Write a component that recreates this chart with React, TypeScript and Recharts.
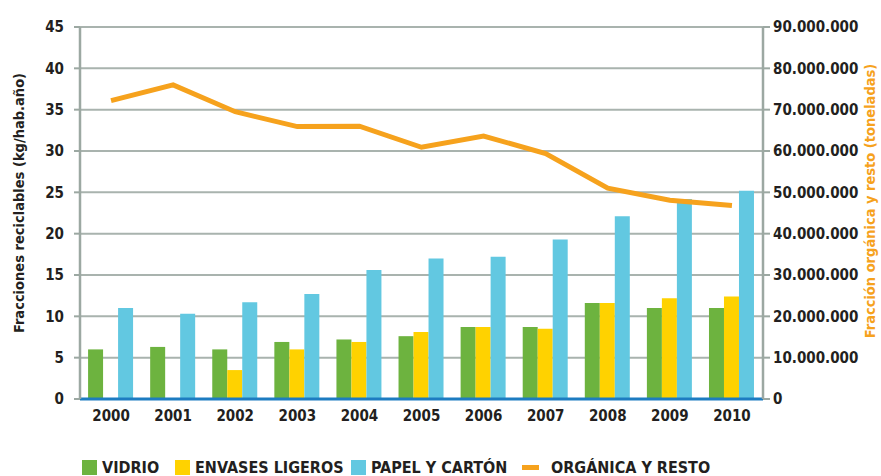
import React from 'react';
import { ComposedChart, Bar, Line, XAxis, YAxis, CartesianGrid, ReferenceLine, Legend } from 'recharts';

const years = ['2000', '2001', '2002', '2003', '2004', '2005', '2006', '2007', '2008', '2009', '2010'];
const vidrio = [6.0, 6.3, 6.0, 6.9, 7.2, 7.6, 8.7, 8.7, 11.6, 11.0, 11.0];
const envases: (number | null)[] = [null, null, 3.5, 6.0, 6.9, 8.1, 8.7, 8.5, 11.6, 12.2, 12.4];
const papel = [11.0, 10.3, 11.7, 12.7, 15.6, 17.0, 17.2, 19.3, 22.1, 24.2, 25.2];
const organica = [72200000, 76000000, 69500000, 65900000, 66000000, 60900000, 63600000, 59400000, 51000000, 48100000, 46800000];

const leftTicks = [0, 5, 10, 15, 20, 25, 30, 35, 40, 45];
const rightTicks = [0, 10000000, 20000000, 30000000, 40000000, 50000000, 60000000, 70000000, 80000000, 90000000];

const seriesNames = ['VIDRIO', 'ENVASES LIGEROS', 'PAPEL Y CARTÓN', 'ORGÁNICA Y RESTO'];
const colors = { green: '#6db33f', yellow: '#ffd200', blue: '#62c8e1', orange: '#f6a21d' };
const legendColors = [colors.green, colors.yellow, colors.blue, colors.orange];
const legendLefts = [82, 175, 351, 522];
const legendTypes = ['square', 'square', 'square', 'line'];

const data = years.map((y, i) => ({
  year: y,
  vidrio: vidrio[i],
  envases: envases[i],
  papel: papel[i],
  organica: organica[i],
}));

const FONT = "'Liberation Sans Narrow', 'Arial Narrow', 'DejaVu Sans Condensed', sans-serif";
const TEXT = '#231f20';
const AXIS = '#9ca8a2';
const GRID = '#a9b3ae';

const fmtDots = (v: number) => String(Math.round(v)).replace(/\B(?=(\d{3})+(?!\d))/g, '.');

const LeftLabel = (props: any) => {
  const vb = props.viewBox || {};
  const x = vb.x + 19;
  const y = vb.y + vb.height / 2 - 10;
  return (
    <text x={x} y={y} transform={`rotate(-90, ${x}, ${y})`} textAnchor="middle" dominantBaseline="central"
      fontFamily={FONT} fontWeight="bold" fontSize={14.5} fill={TEXT}>
      Fracciones reciclables (kg/hab.año)
    </text>
  );
};

const RightLabel = (props: any) => {
  const vb = props.viewBox || {};
  const x = vb.x + vb.width - 11;
  const y = vb.y + vb.height / 2 - 12;
  return (
    <text x={x} y={y} transform={`rotate(-90, ${x}, ${y})`} textAnchor="middle" dominantBaseline="central"
      fontFamily={FONT} fontWeight="bold" fontSize={14.5} fill={colors.orange}>
      Fracción orgánica y resto (toneladas)
    </text>
  );
};

const LegendContent = () => {
  return (
    <div style={{ position: 'relative', height: 47, fontFamily: FONT, fontWeight: 'bold', fontSize: 16, color: TEXT }}>
      {seriesNames.map((name, i) => (
        <div key={name} style={{ position: 'absolute', left: legendLefts[i], top: 31, display: 'flex', alignItems: 'center', height: 15, whiteSpace: 'nowrap' }}>
          {legendTypes[i] === 'line' ? (
            <span style={{ display: 'inline-block', width: 17, height: 5, background: legendColors[i], marginRight: 12 }} />
          ) : (
            <span style={{ display: 'inline-block', width: 15, height: 15, background: legendColors[i], marginRight: 5 }} />
          )}
          <span style={{ lineHeight: '15px' }}>{name}</span>
        </div>
      ))}
    </div>
  );
};

export default function App() {
  const tickStyle = { fontFamily: FONT, fontWeight: 'bold' as const, fontSize: 15, fill: TEXT };
  return (
    <div style={{ position: 'absolute', left: 0, top: 0, width: 881, height: 476, background: '#fff' }}>
      <ComposedChart width={881} height={476} data={data} margin={{ top: 27, right: 0, bottom: 0, left: 0 }}
        barCategoryGap="13%" barGap={0}>
        <CartesianGrid vertical={false} stroke={GRID} strokeWidth={2} yAxisId="left" />
        <XAxis dataKey="year" axisLine={false} tickLine={false} tickSize={0} tickMargin={11} height={30} tick={tickStyle} interval={0} />
        <YAxis yAxisId="left" orientation="left" domain={[0, 45]} ticks={leftTicks} width={80}
          axisLine={{ stroke: AXIS, strokeWidth: 2.5 }} tickLine={{ stroke: AXIS, strokeWidth: 2 }} tickSize={6} tickMargin={10}
          tick={tickStyle} interval={0} label={<LeftLabel />} />
        <YAxis yAxisId="right" orientation="right" domain={[0, 90000000]} ticks={rightTicks} width={118}
          axisLine={{ stroke: AXIS, strokeWidth: 2.5 }} tickLine={{ stroke: AXIS, strokeWidth: 2 }} tickSize={7} tickMargin={3}
          tick={tickStyle} interval={0} tickFormatter={fmtDots} label={<RightLabel />} />
        <Bar yAxisId="left" dataKey="vidrio" name={seriesNames[0]} fill={colors.green} isAnimationActive={false} />
        <Bar yAxisId="left" dataKey="envases" name={seriesNames[1]} fill={colors.yellow} isAnimationActive={false} />
        <Bar yAxisId="left" dataKey="papel" name={seriesNames[2]} fill={colors.blue} isAnimationActive={false} />
        <ReferenceLine yAxisId="left" y={0} stroke="#1d7cc1" strokeWidth={3} />
        <Line yAxisId="right" type="linear" dataKey="organica" name={seriesNames[3]} stroke={colors.orange} strokeWidth={5}
          dot={false} activeDot={false} isAnimationActive={false} legendType="line" />
        <Legend verticalAlign="bottom" content={<LegendContent />} />
      </ComposedChart>
    </div>
  );
}
